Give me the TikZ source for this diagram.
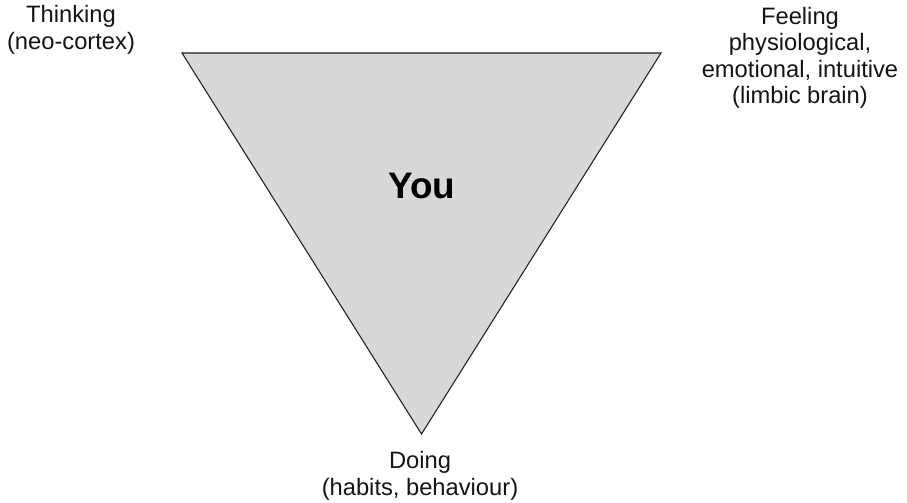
\documentclass[tikz,border=0pt]{standalone}
\usepackage{fontspec}
\setmainfont{Liberation Sans}
\usepackage{tikz}
\usetikzlibrary{positioning}
\definecolor{YouFill}{RGB}{216,216,216}
\definecolor{YouEdge}{RGB}{30,30,30}
\definecolor{LabelInk}{RGB}{20,20,20}

\tikzset{
  cornerlabel/.style={font=\fontsize{13.5}{15}\selectfont, text=LabelInk,
                      align=center, inner sep=0pt},
  youlabel/.style={font=\fontsize{21}{25}\selectfont\bfseries, text=black,
                   inner sep=0pt}
}

\begin{document}
\begin{tikzpicture}[x=0.02cm, y=-0.02cm]
        \useasboundingbox (0,0) rectangle (907,503);

        % Triangle corners
        \coordinate (think) at (182,53);
        \coordinate (feel)  at (661,53);
        \coordinate (do)    at (421.5,434);

        \draw[YouEdge, line width=0.6pt, fill=YouFill, line join=miter]
          (think) -- (feel) -- (do) -- cycle;

        \node[youlabel] (you) at (422,186) {You};

        % Corner labels
        \node[cornerlabel] (thinklbl) at (71,30)
              {Thinking\\(neo-cortex)};
        \node[cornerlabel] (feellbl) at (800,58)
              {Feeling\\physiological,\\emotional, intuitive\\(limbic brain)};
        \node[cornerlabel] (dolbl) at (420,476)
              {Doing\\(habits, behaviour)};
      \end{tikzpicture}
\end{document}
